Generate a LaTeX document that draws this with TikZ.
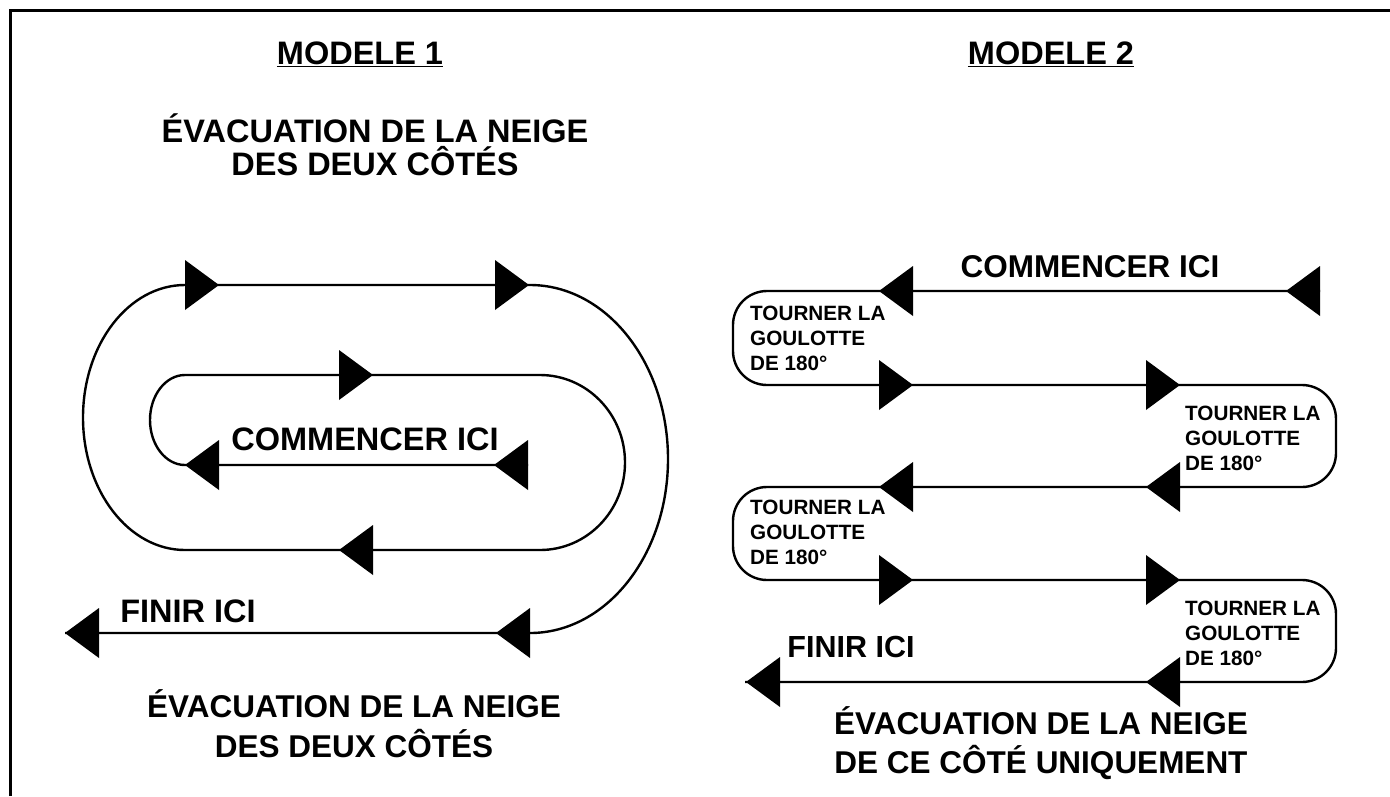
\documentclass[tikz,border=0pt]{standalone}
\usepackage{fontspec}
\setmainfont{Liberation Sans}
\tikzset{
  tri/.pic={\fill (0,-25) -- (34,0) -- (0,25) -- cycle;},
  route/.style={line width=2.4pt},
  frame/.style={line width=3pt},
  big/.style={font=\fontsize{32.5}{34}\selectfont\bfseries, inner sep=0, anchor=base},
  mid/.style={font=\fontsize{31.5}{34}\selectfont\bfseries, inner sep=0, anchor=base},
  small/.style={font=\fontsize{30.5}{34}\selectfont\bfseries, inner sep=0, anchor=base},
  lbl/.style={font=\fontsize{20.7}{25}\selectfont\bfseries, inner sep=0, anchor=base west},
}
\begin{document}
\begin{tikzpicture}[x=1pt,y=-1pt]
\useasboundingbox (0,0) rectangle (1390,796);
% frame
\draw[frame] (10,796) -- (10,10) -- (1390,10);

% headers
\node[big] (m1) at (360,64) {\underline{MODELE 1}};
\node[big] (m2) at (1051,64) {\underline{MODELE 2}};
\node[big] (t1a) at (375,142) {ÉVACUATION DE LA NEIGE};
\node[big] (t1b) at (375,175) {DES DEUX CÔTÉS};
\node[mid] (b1a) at (354,717) {ÉVACUATION DE LA NEIGE};
\node[mid] (b1b) at (354,757) {DES DEUX CÔTÉS};
\node[mid] (b2a) at (1041,734) {ÉVACUATION DE LA NEIGE};
\node[mid] (b2b) at (1041,773) {DE CE CÔTÉ UNIQUEMENT};

% ---------- model 1 ----------
\draw[route] (528,465) -- (185,465)
  arc[start angle=90, end angle=270, x radius=35, y radius=45]
  -- (540,375)
  arc[start angle=-90, end angle=90, x radius=85, y radius=87.5]
  -- (185,550)
  arc[start angle=90, end angle=270, x radius=102, y radius=132.5]
  -- (530,285)
  arc[start angle=-90, end angle=90, x radius=138, y radius=174]
  -- (65,633);
\pic at (185,285) {tri};
\pic at (495,285) {tri};
\pic at (339,375) {tri};
\pic[xscale=-1] at (528,465) {tri};
\pic[xscale=-1] at (219,465) {tri};
\pic[xscale=-1] at (373,550) {tri};
\pic[xscale=-1] at (530,633) {tri};
\pic[xscale=-1] at (99,633) {tri};
\node[big] (c1) at (365,450) {COMMENCER ICI};
\node[big] (f1) at (188,622) {FINIR ICI};

% ---------- model 2 ----------
\draw[route, rounded corners=34] (1320,291) -- (733,291) -- (733,385)
  -- (1336,385) -- (1336,487) -- (733,487) -- (733,580)
  -- (1336,580) -- (1336,682) -- (745,682);
\pic[xscale=-1] at (1320,291) {tri};
\pic[xscale=-1] at (913,291) {tri};
\pic at (879,385) {tri};
\pic at (1146,385) {tri};
\pic[xscale=-1] at (1180,487) {tri};
\pic[xscale=-1] at (913,487) {tri};
\pic at (879,580) {tri};
\pic at (1146,580) {tri};
\pic[xscale=-1] at (1180,682) {tri};
\pic[xscale=-1] at (780,682) {tri};
\node[mid] (c2) at (1090,277) {COMMENCER ICI};
\node[small] (f2) at (851,657) {FINIR ICI};

\node[lbl] (l1a) at (750,320) {TOURNER LA};
\node[lbl] (l1b) at (750,345) {GOULOTTE};
\node[lbl] (l1c) at (750,370) {DE 180°};
\node[lbl] (r1a) at (1185,420) {TOURNER LA};
\node[lbl] (r1b) at (1185,445) {GOULOTTE};
\node[lbl] (r1c) at (1185,470) {DE 180°};
\node[lbl] (l2a) at (750,514) {TOURNER LA};
\node[lbl] (l2b) at (750,539) {GOULOTTE};
\node[lbl] (l2c) at (750,564) {DE 180°};
\node[lbl] (r2a) at (1185,615) {TOURNER LA};
\node[lbl] (r2b) at (1185,640) {GOULOTTE};
\node[lbl] (r2c) at (1185,665) {DE 180°};
\end{tikzpicture}
\end{document}
